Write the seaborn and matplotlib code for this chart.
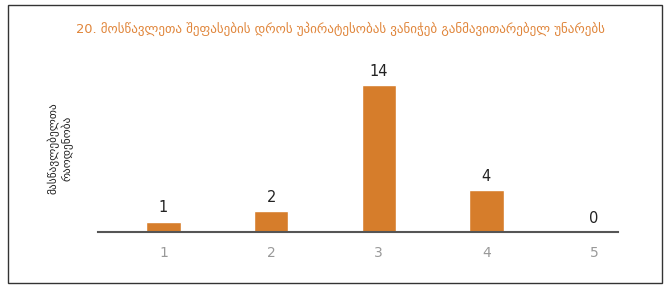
import pandas as pd
import seaborn as sns
import matplotlib.pyplot as plt
from matplotlib.patches import Rectangle

title = "20. მოსწავლეთა შეფასების დროს უპირატესობას ვანიჭებ განმავითარებელ უნარებს"
ylabel = "მასწავლებელთა\nრაოდენობა"
categories = ["1", "2", "3", "4", "5"]
counts = [1, 2, 14, 4, 0]

df = pd.DataFrame({"score": categories, "count": counts})

sns.set_style("white")
plt.rcParams["font.family"] = ["DejaVu Sans"]

fig = plt.figure(figsize=(6.7, 2.88), dpi=100)
ax = fig.add_axes([0.146, 0.194, 0.776, 0.62])

sns.barplot(data=df, x="score", y="count", color="#D67D2B", width=0.32,
            saturation=1, ax=ax)

for i, v in enumerate(counts):
    ax.text(i, v + 0.6, str(v), ha="center", va="bottom", fontsize=10.5,
            color="#222222")

ax.set_xlim(-0.61, 4.22)
ax.set_ylim(0, 17)
ax.set_yticks([])
ax.set_xlabel("")
ax.set_ylabel("")
for s in ["top", "right", "left"]:
    ax.spines[s].set_visible(False)
ax.spines["bottom"].set_color("#555555")
ax.spines["bottom"].set_linewidth(1.5)
ax.tick_params(axis="x", length=0, pad=10, labelsize=10, labelcolor="#999999")

fig.text(0.09, 0.486, ylabel, rotation=90, ha="center", va="center",
         fontsize=8.2, color="#222222", linespacing=1.15)
fig.text(0.508, 0.90, title, ha="center", va="center", fontsize=9.4,
         color="#E0853A")

fig.patches.append(Rectangle((8 / 670, 5 / 288), 654 / 670, 278 / 288,
                             transform=fig.transFigure, fill=False,
                             edgecolor="#333333", linewidth=1))

fig.savefig("out.png", dpi=100)
